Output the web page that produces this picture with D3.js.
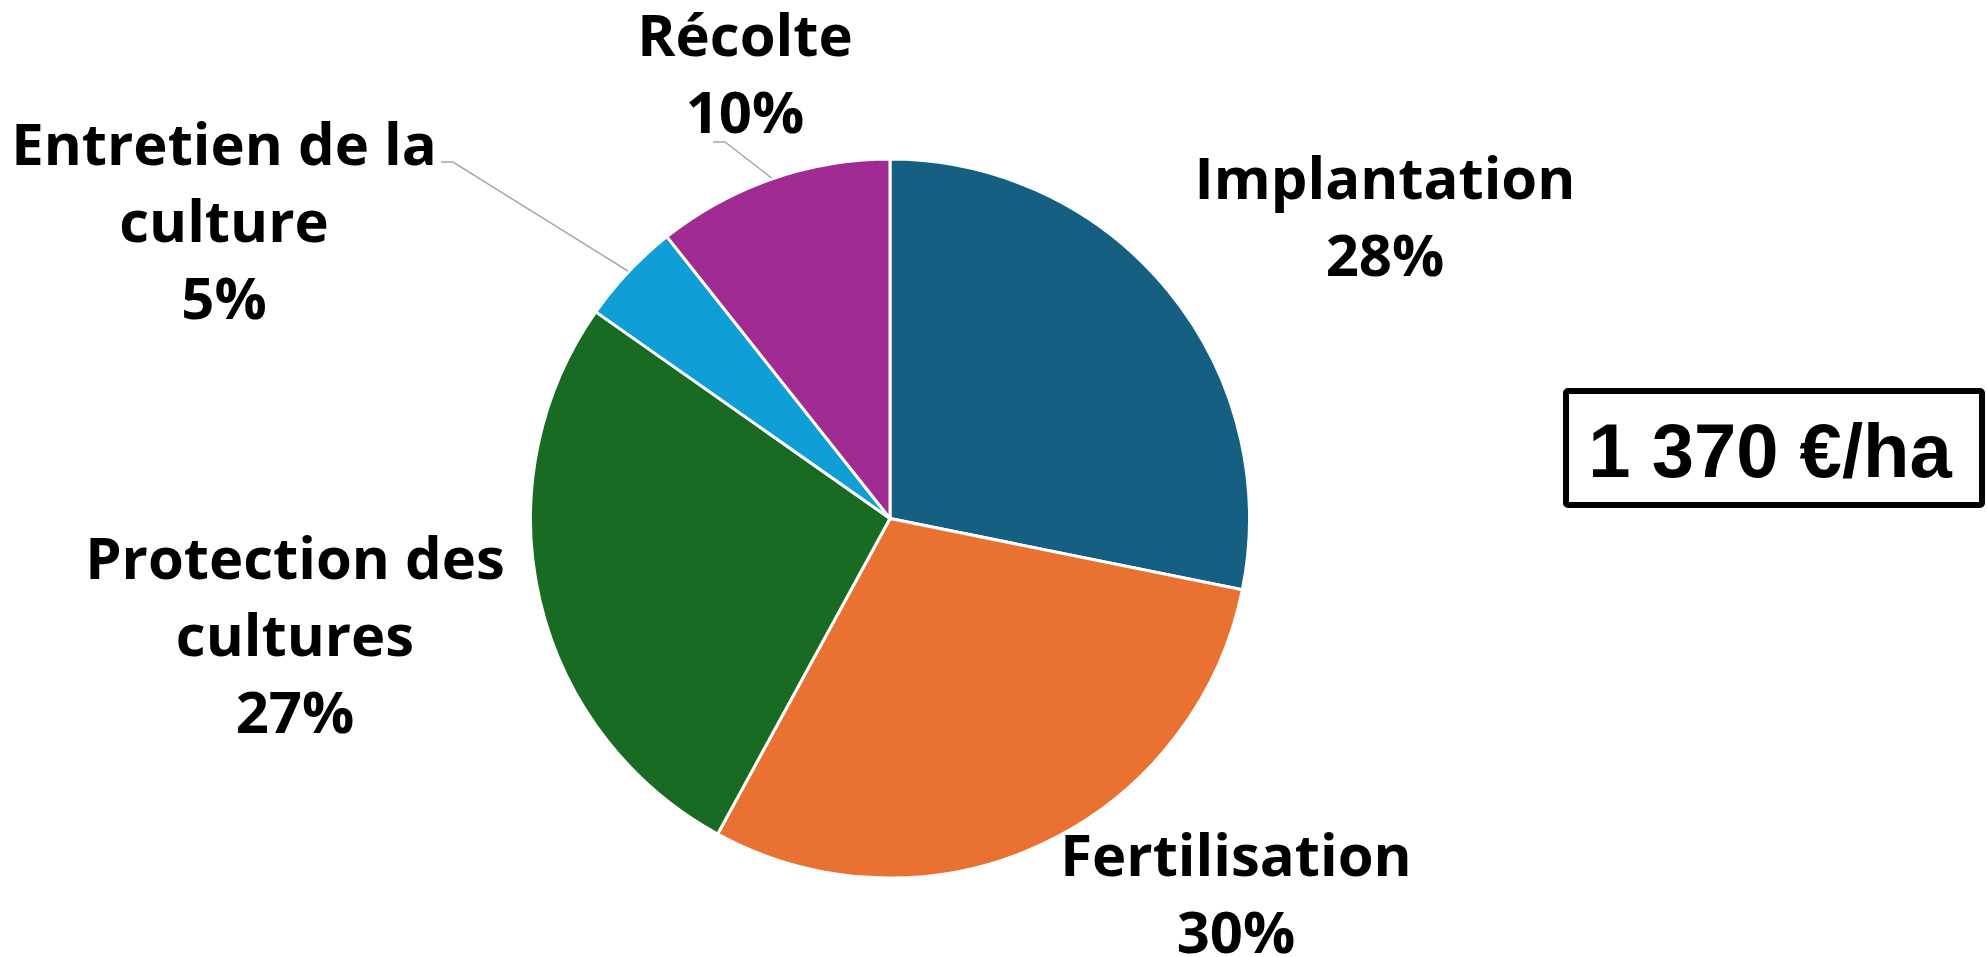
<!DOCTYPE html>
<html>
<head>
<meta charset="utf-8">
<script src="https://cdn.jsdelivr.net/npm/d3@7"></script>
<style>
  html, body { margin: 0; padding: 0; background: #ffffff; }
  svg { display: block; }
</style>
</head>
<body>
<svg id="chart" width="1987" height="957"></svg>
<script>
// ---- data ----
const categories = ["Implantation", "Fertilisation", "Protection des cultures", "Entretien de la culture", "Récolte"];
const values = [386, 408, 367, 63, 146];           // €/ha, total 1 370
const percentLabels = ["28%", "30%", "27%", "5%", "10%"];
const labelLines = [["Implantation"], ["Fertilisation"], ["Protection des", "cultures"], ["Entretien de la", "culture"], ["Récolte"]];
const colors = ["#156082", "#E97132", "#196B24", "#0F9ED5", "#A02B93"];
const totalText = "1 370 €/ha";

// ---- layout ----
const W = 1987, H = 957;
const cx = 890, cy = 518.5, R = 359.5;
const lineGap = 77;
// label anchors: x center, baseline of first line
const labelPos = [
  { x: 1385, y: 199, leader: false },
  { x: 1236, y: 876, leader: false },
  { x: 295, y: 579, leader: false },
  { x: 224, y: 165, leader: true, lx: 441, ly: 162, bx: 453 },
  { x: 745, y: 56, leader: true, lx: 713, ly: 142, bx: 725 }
];

const svg = d3.select("#chart");
const g = svg.append("g").attr("transform", `translate(${cx},${cy})`);

const pie = d3.pie().sort(null).value(d => d).startAngle(0).endAngle(2 * Math.PI);
const arcs = pie(values);
const arc = d3.arc().innerRadius(0).outerRadius(R);

g.selectAll("path.slice")
  .data(arcs)
  .join("path")
  .attr("class", "slice")
  .attr("d", arc)
  .attr("fill", (d, i) => colors[i])
  .attr("stroke", "#ffffff")
  .attr("stroke-width", 3)
  .attr("stroke-linejoin", "round");

// leader lines
arcs.forEach((a, i) => {
  const p = labelPos[i];
  if (!p.leader) return;
  const mid = (a.startAngle + a.endAngle) / 2;
  const ex = cx + (R + 1) * Math.sin(mid);
  const ey = cy - (R + 1) * Math.cos(mid);
  svg.append("path")
    .attr("d", d3.line()([[p.lx, p.ly], [p.bx, p.ly], [ex, ey]]))
    .attr("fill", "none")
    .attr("stroke", "#A6A6A6")
    .attr("stroke-width", 1.5);
});

// labels
const labelFont = "'Open Sans', 'DejaVu Sans', sans-serif";
arcs.forEach((a, i) => {
  const p = labelPos[i];
  const lines = labelLines[i].concat([percentLabels[i]]);
  const t = svg.append("text")
    .attr("text-anchor", "middle")
    .attr("font-family", labelFont)
    .attr("font-weight", 700)
    .attr("font-size", 58)
    .attr("fill", "#000000");
  lines.forEach((s, j) => {
    t.append("tspan").attr("x", p.x).attr("y", p.y + j * lineGap).text(s);
  });
});

// total box
svg.append("rect")
  .attr("x", 1566).attr("y", 391).attr("width", 416).attr("height", 114)
  .attr("rx", 2)
  .attr("fill", "#ffffff").attr("stroke", "#000000").attr("stroke-width", 6);
svg.append("text")
  .attr("x", 1770).attr("y", 477)
  .attr("text-anchor", "middle")
  .attr("font-family", "'Liberation Sans', Arial, sans-serif")
  .attr("font-weight", 700)
  .attr("font-size", 76)
  .attr("fill", "#000000")
  .text(totalText);
</script>
</body>
</html>
